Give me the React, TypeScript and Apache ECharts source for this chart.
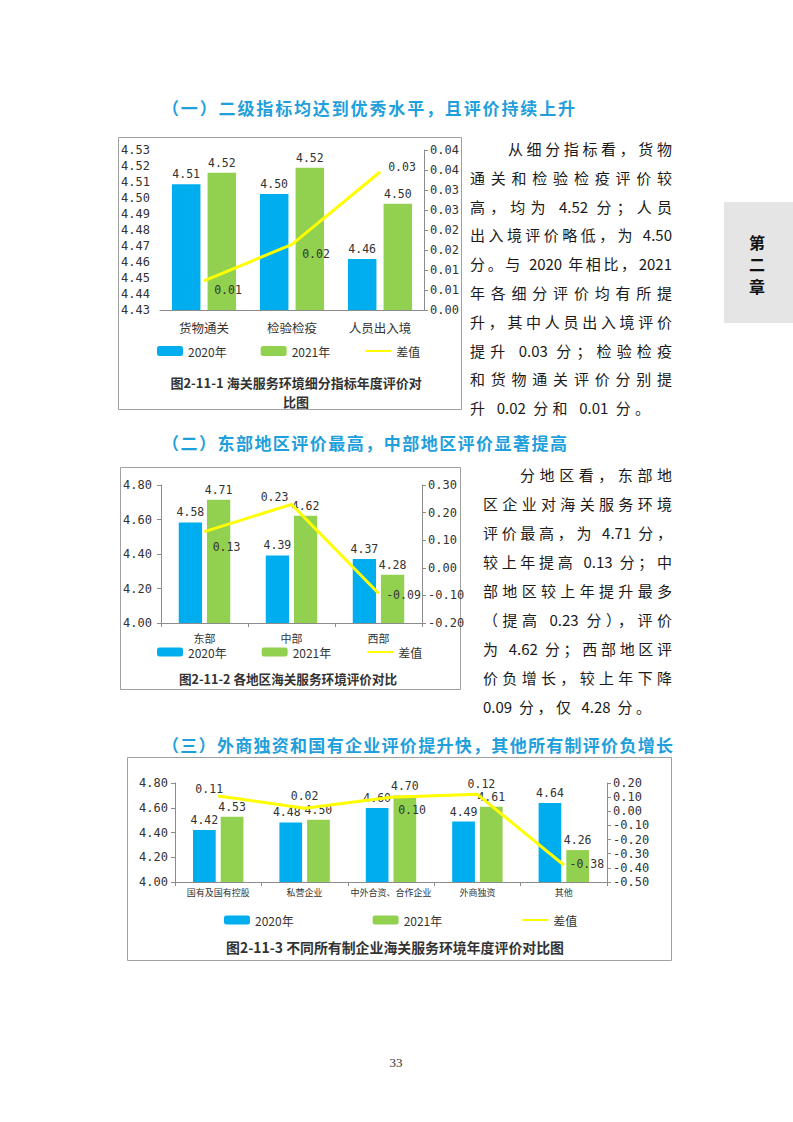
import React, { useEffect, useRef } from 'react';
import * as echarts from 'echarts';

const BLUE = '#00aeef';
const GREEN = '#92d050';
const YELLOW = '#ffff00';
const AXIS = '#8c8c8c';
const TXT = '#333333';
const MONO = '"DejaVu Sans Mono", monospace';
const CJK = '"Noto Sans CJK SC", sans-serif';

// ---- Figure 2-11-1 ----
const cat1 = ['货物通关', '检验检疫', '人员出入境'];
const s2020_1 = [4.5086, 4.5025, 4.4619];
const s2021_1 = [4.5158, 4.5189, 4.4964];
const diff_1 = [0.0073, 0.0164, 0.0345];
const rightTicks1 = ['0.00', '0.01', '0.01', '0.02', '0.02', '0.03', '0.03', '0.04', '0.04'];

// ---- Figure 2-11-2 ----
const cat2 = ['东部', '中部', '西部'];
const s2020_2 = [4.583, 4.392, 4.371];
const s2021_2 = [4.714, 4.622, 4.279];
const diff_2 = [0.131, 0.23, -0.092];

// ---- Figure 2-11-3 ----
const cat3 = ['国有及国有控股', '私营企业', '中外合资、合作企业', '外商独资', '其他'];
const s2020_3 = [4.42, 4.481, 4.598, 4.488, 4.638];
const s2021_3 = [4.528, 4.503, 4.698, 4.608, 4.258];
const diff_3 = [0.108, 0.022, 0.1, 0.12, -0.38];

const legendNames = ['2020年', '2021年', '差值'];

// label offsets (styling) for the difference line labels
const off1 = [[24, 9], [24, 10], [22, -5]];
const off2 = [[22, 15], [-17, -7], [25, 2]];
const off3 = [[-9, -7], [0, -12], [21, 13], [4, -10], [23, -1]];
// bar label offsets (styling) for figure 3, 2020 series
const barOff3 = [[0, 0], [-4, 0], [0, 0], [0, 0], [0, 0]];

const heading1 = '（一）二级指标均达到优秀水平，且评价持续上升';
const heading2 = '（二）东部地区评价最高，中部地区评价显著提高';
const heading3 = '（三）外商独资和国有企业评价提升快，其他所有制评价负增长';
const tabChars = ['第', '二', '章'];

const para1 = [
  '从细分指标看，货物',
  '通关和检验检疫评价较',
  '高，均为 4.52 分；人员',
  '出入境评价略低，为 4.50',
  '分。与 2020 年相比，2021',
  '年各细分评价均有所提',
  '升，其中人员出入境评价',
  '提升 0.03 分；检验检疫',
  '和货物通关评价分别提',
  '升 0.02 分和 0.01 分。',
];
const para2 = [
  '分地区看，东部地',
  '区企业对海关服务环境',
  '评价最高，为 4.71 分，',
  '较上年提高 0.13 分；中',
  '部地区较上年提升最多',
  '（提高 0.23 分），评价',
  '为 4.62 分；西部地区评',
  '价负增长，较上年下降',
  '0.09 分，仅 4.28 分。',
];

const fmt2 = (v: number) => (Math.abs(v) < 1e-9 ? '0.00' : v.toFixed(2));

function barSeries(name: string, data: number[], idx: number, color: string, width: number, gap: string, fs: number, offs?: number[][]) {
  return {
    type: 'bar',
    name,
    xAxisIndex: idx,
    yAxisIndex: idx * 2,
    data: offs ? data.map((v, i) => ({ value: v, label: { offset: offs[i] } })) : data,
    barWidth: width,
    barGap: gap,
    itemStyle: { color },
    label: {
      show: true,
      position: 'top',
      distance: 4,
      formatter: (p: any) => fmt2(p.value),
      fontFamily: MONO,
      fontSize: fs,
      color: TXT,
    },
    z: 2,
  };
}

function lineSeries(data: number[], idx: number, offs: number[][], fs: number) {
  return {
    type: 'line',
    name: '差值',
    xAxisIndex: idx,
    yAxisIndex: idx * 2 + 1,
    data: data.map((v, i) => ({ value: v, label: { offset: offs[i] } })),
    symbol: 'circle',
    symbolSize: 1,
    lineStyle: { color: YELLOW, width: 3 },
    itemStyle: { color: YELLOW },
    label: {
      show: true,
      position: 'inside',
      formatter: (p: any) => fmt2(p.value),
      fontFamily: MONO,
      fontSize: fs,
      color: TXT,
    },
    z: 5,
  };
}

function catAxis(idx: number, data: string[], fs: number, margin: number, ticks: boolean) {
  return {
    gridIndex: idx,
    type: 'category',
    data,
    position: 'bottom',
    axisLine: { show: true, onZero: false, lineStyle: { color: AXIS, width: 1 } },
    axisTick: { show: ticks, length: 4, lineStyle: { color: AXIS } },
    axisLabel: { interval: 0, fontSize: fs, margin, color: TXT, fontFamily: CJK },
    splitLine: { show: false },
  };
}

function valAxis(idx: number, pos: string, min: number, max: number, interval: number, showLine: boolean, margin: number, formatter: any) {
  return {
    gridIndex: idx,
    type: 'value',
    position: pos,
    min,
    max,
    interval,
    axisLine: { show: showLine, onZero: false, lineStyle: { color: AXIS, width: 1 } },
    axisTick: { show: showLine, length: 4, inside: false, lineStyle: { color: AXIS } },
    splitLine: { show: false },
    axisLabel: { formatter, fontFamily: MONO, fontSize: 12, color: TXT, margin },
  };
}

function legend(left: number, top: number, gap: number, itemHeight: number) {
  return {
    left,
    top,
    orient: 'horizontal',
    itemWidth: 26,
    itemHeight,
    itemGap: gap,
    selectedMode: false,
    padding: 0,
    data: [legendNames[0], legendNames[1], { name: legendNames[2], itemStyle: { opacity: 0 } }],
    textStyle: { fontFamily: CJK, fontSize: 12, color: TXT },
  };
}

function textEl(text: string, x: number, y: number, fs: number, bold: boolean, family: string, fill = TXT) {
  return {
    type: 'text',
    x,
    y,
    silent: true,
    style: {
      text,
      fontSize: fs,
      fontWeight: bold ? 'bold' : 'normal',
      fontFamily: family,
      fill,
      align: 'center',
      verticalAlign: 'middle',
      textAlign: 'center',
      textVerticalAlign: 'middle',
    },
  };
}

function boxEl(x: number, y: number, w: number, h: number) {
  return {
    type: 'rect',
    silent: true,
    shape: { x, y, width: w, height: h },
    style: { fill: 'none', stroke: '#a0a0a0', lineWidth: 1 },
  };
}

export default function App() {
  const ref = useRef<HTMLDivElement>(null);
  useEffect(() => {
    if (!ref.current) return;
    const chart = echarts.init(ref.current, null, { renderer: 'svg' });
    chart.setOption({
      animation: false,
      backgroundColor: 'transparent',
      grid: [
        { left: 160, top: 150, width: 264, height: 160 },
        { left: 161, top: 485, width: 261, height: 138 },
        { left: 175, top: 783, width: 432, height: 99 },
      ],
      xAxis: [
        catAxis(0, cat1, 12.5, 11, false),
        catAxis(1, cat2, 11, 9, true),
        catAxis(2, cat3, 9, 6, true),
      ],
      yAxis: [
        valAxis(0, 'left', 4.43, 4.53, 0.01, false, 10, fmt2),
        valAxis(0, 'right', 0, 0.04, 0.005, true, 6, (v: number) => rightTicks1[Math.round(v / 0.005)]),
        valAxis(1, 'left', 4.0, 4.8, 0.2, true, 9, fmt2),
        valAxis(1, 'right', -0.2, 0.3, 0.1, true, 6, fmt2),
        valAxis(2, 'left', 4.0, 4.8, 0.2, true, 7, fmt2),
        valAxis(2, 'right', -0.5, 0.2, 0.1, true, 6, fmt2),
      ],
      legend: [legend(157, 345, 34, 10), legend(157, 646, 35, 9), legend(224, 914, 79, 9)],
      series: [
        barSeries('2020年', s2020_1, 0, BLUE, 28.5, '25%', 11.5),
        barSeries('2021年', s2021_1, 0, GREEN, 28.5, '25%', 11.5),
        lineSeries(diff_1, 0, off1, 11.5),
        barSeries('2020年', s2020_2, 1, BLUE, 23.3, '21%', 11.5),
        barSeries('2021年', s2021_2, 1, GREEN, 23.3, '21%', 11.5),
        lineSeries(diff_2, 1, off2, 11.5),
        barSeries('2020年', s2020_3, 2, BLUE, 22.7, '22%', 11.5, barOff3),
        barSeries('2021年', s2021_3, 2, GREEN, 22.7, '22%', 11.5),
        lineSeries(diff_3, 2, off3, 11.5),
      ],
      graphic: [
        boxEl(118.5, 137.5, 343, 272),
        boxEl(120.5, 467.5, 340, 222),
        boxEl(127.5, 757.5, 544, 203),
        textEl('图2-11-1 海关服务环境细分指标年度评价对', 296, 382, 13, true, CJK),
        textEl('比图', 296, 401, 13, true, CJK),
        textEl('图2-11-2 各地区海关服务环境评价对比', 288, 678, 12.6, true, CJK),
        textEl('图2-11-3 不同所有制企业海关服务环境年度评价对比图', 395, 947, 13.9, true, CJK),
        {
          type: 'rect',
          silent: true,
          shape: { x: 724, y: 202, width: 69, height: 121 },
          style: { fill: '#e5e5e5' },
        },
        ...tabChars.map((c, i) => textEl(c, 757, 242 + i * 22, 16, true, CJK, '#111')),
        textEl('33', 396, 1062, 13, false, '"Liberation Serif", serif'),
      ],
    });
    return () => chart.dispose();
  }, []);

  const headStyle = (top: number, width: number): React.CSSProperties => ({
    position: 'absolute',
    left: 162,
    top,
    width,
    height: 22,
    lineHeight: '22px',
    fontSize: 17,
    fontWeight: 700,
    color: '#1f9fdc',
    fontFamily: CJK,
    textAlign: 'justify',
    textAlignLast: 'justify',
  });

  const lineStyle = (left: number, right: number, cy: number): React.CSSProperties => ({
    position: 'absolute',
    left,
    top: cy - 11,
    width: right - left,
    height: 22,
    lineHeight: '22px',
    fontSize: 15,
    color: '#1a1a1a',
    fontFamily: CJK,
    textAlign: 'justify',
    textAlignLast: 'justify',
    overflow: 'visible',
  });

  return (
    <div
      style={{
        position: 'absolute',
        left: 0,
        top: 0,
        width: 793,
        height: 1122,
        overflow: 'hidden',
        background: '#ffffff',
      }}
    >
      <div ref={ref} style={{ position: 'absolute', left: 0, top: 0, width: 793, height: 1122 }} />
      <div style={headStyle(97, 413)}>{heading1}</div>
      <div style={headStyle(432, 405)}>{heading2}</div>
      <div style={headStyle(734, 511)}>{heading3}</div>
      {para1.map((t, i) => (
        <div key={'p1' + i} style={lineStyle(i === 0 ? 508 : 470, i === para1.length - 1 ? 650 : 672, 149 + i * 28.8)}>
          {t}
        </div>
      ))}
      {para2.map((t, i) => (
        <div key={'p2' + i} style={lineStyle(i === 0 ? 520 : 483, i === para2.length - 1 ? 651 : 672, 475 + i * 29)}>
          {t}
        </div>
      ))}
    </div>
  );
}
